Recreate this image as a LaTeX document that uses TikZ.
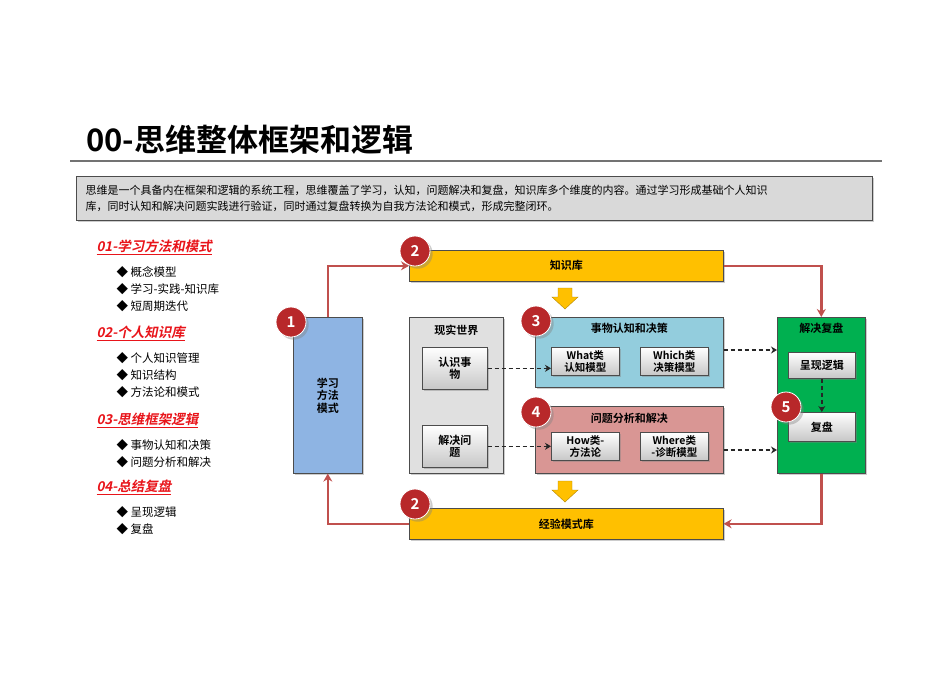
\documentclass[tikz,border=0pt]{standalone}
\usepackage{fontspec}
\setmainfont{Noto Sans CJK SC}
\newfontfamily\cjkb{Noto Sans CJK SC Bold}
\newfontfamily\cjkbi[FakeSlant=0.2]{Noto Sans CJK SC Bold}
\usetikzlibrary{shadows,arrows.meta}
\definecolor{yel}{HTML}{FFC000}
\definecolor{blu}{HTML}{8EB4E3}
\definecolor{cyn}{HTML}{93CDDD}
\definecolor{pnk}{HTML}{D99694}
\definecolor{grn}{HTML}{00B050}
\definecolor{rline}{HTML}{C0504D}
\definecolor{circ}{HTML}{B8282A}
\definecolor{ttl}{HTML}{E8141A}
\tikzset{
  box/.style={draw=black!70,line width=0.6pt,drop shadow={opacity=0.4,shadow xshift=1.5pt,shadow yshift=-1.5pt},inner sep=0pt},
  sub/.style={box,fill=black!12,top color=white,bottom color=black!22,align=center,font=\cjkb\fontsize{11}{12}\selectfont},
  badge/.style={circle,fill=circ,draw=white,line width=0.8pt,minimum size=30pt,inner sep=0pt,text=white,font=\cjkb\fontsize{15}{15}\selectfont,drop shadow={opacity=0.4}},
  rl/.style={rline,line width=2.5pt,-{Stealth[length=8pt,width=9pt]}},
  dl/.style={black!85,dash pattern=on 4pt off 3pt,line width=1.5pt,-{Stealth[length=6pt,width=7pt]}},
  hd/.style={font=\cjkb\fontsize{11}{12.5}\selectfont},
  sec/.style={anchor=west,text=ttl,font=\cjkbi\fontsize{13.5}{14}\selectfont},
  itm/.style={anchor=west,font=\fontsize{11.5}{12}\selectfont},
  yarr/.style={fill=yel,draw=yel!70!black,line width=0.4pt}
}
\begin{document}
\begin{tikzpicture}[x=1pt,y=-1pt]
\useasboundingbox (0,0) rectangle (950,672);
\node[anchor=south west,font=\cjkb\fontsize{31}{32}\selectfont,inner sep=0] (title) at (86,155) {00-思维整体框架和逻辑};
\draw[black!55,line width=1.2pt] (70,161) -- (882,161);
\node[box,fill=black!15,minimum width=796pt,minimum height=44pt,anchor=north west] (desc) at (76,176) {};
\node[anchor=west,align=left,font=\fontsize{11}{16}\selectfont] at (82,198) {思维是一个具备内在框架和逻辑的系统工程，思维覆盖了学习，认知，问题解决和复盘，知识库多个维度的内容。通过学习形成基础个人知识\\库，同时认知和解决问题实践进行验证，同时通过复盘转换为自我方法论和模式，形成完整闭环。};
% left list
\node[sec] (s1) at (93,247) {\underline{01-学习方法和模式}};
\node[itm] at (113,272) {◆ 概念模型};
\node[itm] at (113,289) {◆ 学习-实践-知识库};
\node[itm] at (113,306) {◆ 短周期迭代};
\node[sec] (s2) at (93,333) {\underline{02-个人知识库}};
\node[itm] at (113,358) {◆ 个人知识管理};
\node[itm] at (113,375) {◆ 知识结构};
\node[itm] at (113,392) {◆ 方法论和模式};
\node[sec] (s3) at (93,420) {\underline{03-思维框架逻辑}};
\node[itm] at (113,445) {◆ 事物认知和决策};
\node[itm] at (113,462) {◆ 问题分析和解决};
\node[sec] (s4) at (93,487) {\underline{04-总结复盘}};
\node[itm] at (113,512) {◆ 呈现逻辑};
\node[itm] at (113,529) {◆ 复盘};
% main boxes
\node[box,fill=blu,minimum width=69pt,minimum height=156pt,anchor=north west,align=center,hd] (learn) at (293,317) {学习\\方法\\模式};
\node[box,fill=yel,minimum width=314pt,minimum height=31pt,anchor=north west,hd] (kb) at (409,250) {知识库};
\node[box,fill=yel,minimum width=314pt,minimum height=31pt,anchor=north west,hd] (exp) at (409,508) {经验模式库};
\node[box,fill=black!12,minimum width=94pt,minimum height=156pt,anchor=north west] (real) at (409,317) {};
\node[hd,anchor=north] at (real.north) [yshift=-4pt] {现实世界};
\node[sub,minimum width=65pt,minimum height=42pt,anchor=north west] (know) at (422,347) {认识事\\物};
\node[sub,minimum width=65pt,minimum height=42pt,anchor=north west] (solve) at (422,425) {解决问\\题};
\node[box,fill=cyn,minimum width=188pt,minimum height=70pt,anchor=north west] (cog) at (535,317) {};
\node[hd,anchor=north] at (cog.north) [yshift=-3pt] {事物认知和决策};
\node[sub,minimum width=68pt,minimum height=28pt,anchor=north west,font=\cjkb\fontsize{10.5}{11.5}\selectfont] (what) at (551,347) {What类\\认知模型};
\node[sub,minimum width=68pt,minimum height=28pt,anchor=north west,font=\cjkb\fontsize{10.5}{11.5}\selectfont] (which) at (640,347) {Which类\\决策模型};
\node[box,fill=pnk,minimum width=188pt,minimum height=67pt,anchor=north west] (prob) at (535,406) {};
\node[hd,anchor=north] at (prob.north) [yshift=-4pt] {问题分析和解决};
\node[sub,minimum width=68pt,minimum height=28pt,anchor=north west,font=\cjkb\fontsize{10.5}{11.5}\selectfont] (how) at (551,432) {How类-\\方法论};
\node[sub,minimum width=68pt,minimum height=28pt,anchor=north west,font=\cjkb\fontsize{10.5}{11.5}\selectfont] (where) at (640,432) {Where类\\-诊断模型};
\node[box,fill=grn,minimum width=88pt,minimum height=156pt,anchor=north west] (rev) at (777,317) {};
\node[hd,anchor=north] at (rev.north) [yshift=-3pt] {解决复盘};
\node[sub,minimum width=67pt,minimum height=26pt,anchor=north west] (logic) at (788,352) {呈现逻辑};
\node[sub,minimum width=67pt,minimum height=29pt,anchor=north west] (fp) at (788,412) {复盘};
% yellow arrows
\draw[yarr] (558,288) -- (572,288) -- (572,297) -- (578,297) -- (565,309) -- (552,297) -- (558,297) -- cycle;
\draw[yarr] (558,481) -- (572,481) -- (572,490) -- (578,490) -- (565,502) -- (552,490) -- (558,490) -- cycle;
% red connectors
\draw[rl] (learn.north) |- (kb.west);
\draw[rl] (kb.east) -| (rev.north);
\draw[rl] (rev.south) |- (exp.east);
\draw[rl] (exp.west) -| (learn.south);
% dashed
\draw[dl] (know.east) -- (what.west |- know.east);
\draw[dl] (solve.east) -- (how.west |- solve.east);
\draw[dl] (cog.east |- 0,350) -- (rev.west |- 0,350);
\draw[dl] (prob.east |- 0,450) -- (rev.west |- 0,450);
\draw[dl] (logic.south) -- (fp.north);
% badges
\node[badge] (b1) at (291,322) {1};
\node[badge] (b2) at (415,251) {2};
\node[badge] (b3) at (536,321) {3};
\node[badge] (b4) at (536,412) {4};
\node[badge] (b5) at (786,407) {5};
\node[badge] (b6) at (415,504) {2};
\end{tikzpicture}
\end{document}
